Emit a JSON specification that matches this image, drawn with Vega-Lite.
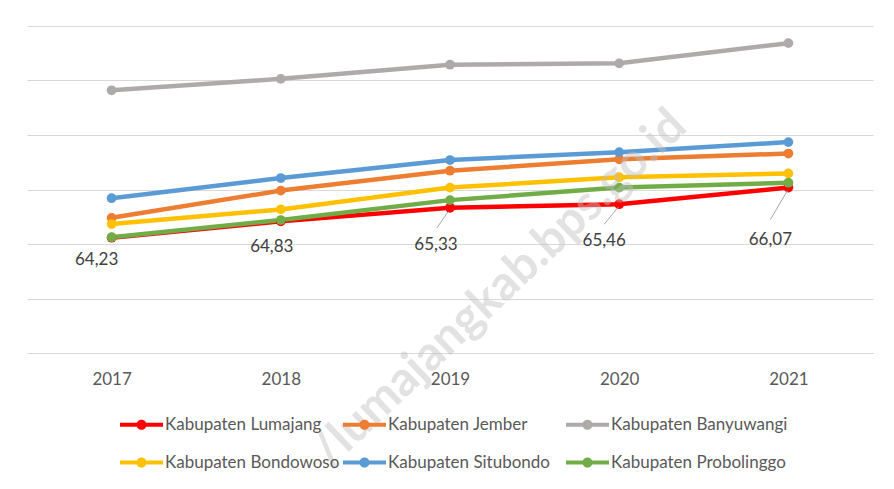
{
  "$schema": "https://vega.github.io/schema/vega-lite/v6.json",
  "width": 846,
  "height": 327,
  "autosize": "none",
  "padding": {"left": 27, "top": 26, "right": 21, "bottom": 136},
  "background": "white",
  "config": {
    "font": "Lato",
    "locale": {"number": {"decimal": ",", "thousands": ".", "grouping": [3], "currency": ["", ""]}},
    "view": {"stroke": null}
  },
  "data": {
    "values": [
      {"series": "Kabupaten Lumajang", "year": "2017", "value": 64.23},
      {"series": "Kabupaten Lumajang", "year": "2018", "value": 64.83},
      {"series": "Kabupaten Lumajang", "year": "2019", "value": 65.33},
      {"series": "Kabupaten Lumajang", "year": "2020", "value": 65.46},
      {"series": "Kabupaten Lumajang", "year": "2021", "value": 66.07},
      {"series": "Kabupaten Jember", "year": "2017", "value": 64.96},
      {"series": "Kabupaten Jember", "year": "2018", "value": 65.96},
      {"series": "Kabupaten Jember", "year": "2019", "value": 66.69},
      {"series": "Kabupaten Jember", "year": "2020", "value": 67.11},
      {"series": "Kabupaten Jember", "year": "2021", "value": 67.32},
      {"series": "Kabupaten Banyuwangi", "year": "2017", "value": 69.64},
      {"series": "Kabupaten Banyuwangi", "year": "2018", "value": 70.06},
      {"series": "Kabupaten Banyuwangi", "year": "2019", "value": 70.58},
      {"series": "Kabupaten Banyuwangi", "year": "2020", "value": 70.63},
      {"series": "Kabupaten Banyuwangi", "year": "2021", "value": 71.37},
      {"series": "Kabupaten Bondowoso", "year": "2017", "value": 64.73},
      {"series": "Kabupaten Bondowoso", "year": "2018", "value": 65.27},
      {"series": "Kabupaten Bondowoso", "year": "2019", "value": 66.07},
      {"series": "Kabupaten Bondowoso", "year": "2020", "value": 66.45},
      {"series": "Kabupaten Bondowoso", "year": "2021", "value": 66.59},
      {"series": "Kabupaten Situbondo", "year": "2017", "value": 65.68},
      {"series": "Kabupaten Situbondo", "year": "2018", "value": 66.42},
      {"series": "Kabupaten Situbondo", "year": "2019", "value": 67.08},
      {"series": "Kabupaten Situbondo", "year": "2020", "value": 67.37},
      {"series": "Kabupaten Situbondo", "year": "2021", "value": 67.74},
      {"series": "Kabupaten Probolinggo", "year": "2017", "value": 64.25},
      {"series": "Kabupaten Probolinggo", "year": "2018", "value": 64.88},
      {"series": "Kabupaten Probolinggo", "year": "2019", "value": 65.61},
      {"series": "Kabupaten Probolinggo", "year": "2020", "value": 66.07},
      {"series": "Kabupaten Probolinggo", "year": "2021", "value": 66.25}
    ]
  },
  "encoding": {
    "x": {
      "field": "year", "type": "ordinal",
      "scale": {"type": "point", "padding": 0.5},
      "axis": {"title": null, "labelAngle": 0, "ticks": false, "tickSize": 0, "domainColor": "#D9D9D9", "domainWidth": 1, "labelFontSize": 17, "labelColor": "#595959", "labelPadding": 18, "grid": false}
    },
    "y": {
      "field": "value", "type": "quantitative",
      "scale": {"domain": [60, 72], "nice": false, "zero": false},
      "axis": {"title": null, "labels": false, "ticks": false, "domain": false, "grid": true, "gridColor": "#D9D9D9", "gridWidth": 1, "values": [60, 62, 64, 66, 68, 70, 72]}
    }
  },
  "layer": [
    {
      "mark": {"type": "line", "strokeWidth": 4.5},
      "encoding": {
        "color": {
          "field": "series", "type": "nominal",
          "scale": {
            "domain": ["Kabupaten Lumajang", "Kabupaten Jember", "Kabupaten Banyuwangi", "Kabupaten Bondowoso", "Kabupaten Situbondo", "Kabupaten Probolinggo"],
            "range": ["#FF0000", "#ED7D31", "#AEAAAA", "#FFC000", "#5B9BD5", "#70AD47"]
          },
          "legend": {
            "title": null,
            "orient": "none",
            "legendX": 99,
            "legendY": 383,
            "direction": "horizontal",
            "columns": 3,
            "gridAlign": "all",
            "columnPadding": 1,
            "rowPadding": 14,
            "symbolType": "M-1.4,-0.13L1.4,-0.13L1.4,0.13L-1.4,0.13Z M0.33,0A0.33,0.33 0 1,1 -0.33,0A0.33,0.33 0 1,1 0.33,0Z",
            "symbolSize": 943,
            "symbolStrokeWidth": 0,
            "labelFontSize": 17,
            "labelColor": "#595959",
            "labelOffset": 8,
            "labelLimit": 300
          }
        }
      }
    },
    {
      "mark": {"type": "point", "filled": true, "size": 95, "opacity": 1},
      "encoding": {"color": {"field": "series", "type": "nominal"}}
    },
    {
      "transform": [{"filter": {"and": [{"field": "series", "equal": "Kabupaten Lumajang"}, {"field": "year", "equal": "2017"}]}}],
      "mark": {"type": "text", "dx": -15, "dy": 22, "fontSize": 17, "color": "#404040", "align": "center", "baseline": "middle"},
      "encoding": {"text": {"field": "value", "type": "quantitative", "format": ".2f"}}
    },
    {
      "transform": [{"filter": {"and": [{"field": "series", "equal": "Kabupaten Lumajang"}, {"field": "year", "equal": "2018"}]}}],
      "mark": {"type": "text", "dx": -9, "dy": 26, "fontSize": 17, "color": "#404040", "align": "center", "baseline": "middle"},
      "encoding": {"text": {"field": "value", "type": "quantitative", "format": ".2f"}}
    },
    {
      "transform": [{"filter": {"and": [{"field": "series", "equal": "Kabupaten Lumajang"}, {"field": "year", "equal": "2019"}]}}],
      "mark": {"type": "text", "dx": -14, "dy": 37, "fontSize": 17, "color": "#404040", "align": "center", "baseline": "middle"},
      "encoding": {"text": {"field": "value", "type": "quantitative", "format": ".2f"}}
    },
    {
      "transform": [{"filter": {"and": [{"field": "series", "equal": "Kabupaten Lumajang"}, {"field": "year", "equal": "2020"}]}}],
      "mark": {"type": "text", "dx": -15, "dy": 37, "fontSize": 17, "color": "#404040", "align": "center", "baseline": "middle"},
      "encoding": {"text": {"field": "value", "type": "quantitative", "format": ".2f"}}
    },
    {
      "transform": [{"filter": {"and": [{"field": "series", "equal": "Kabupaten Lumajang"}, {"field": "year", "equal": "2021"}]}}],
      "mark": {"type": "text", "dx": -18, "dy": 52, "fontSize": 17, "color": "#404040", "align": "center", "baseline": "middle"},
      "encoding": {"text": {"field": "value", "type": "quantitative", "format": ".2f"}}
    },
    {
      "transform": [{"filter": {"and": [{"field": "series", "equal": "Kabupaten Lumajang"}, {"field": "year", "equal": "2019"}]}}],
      "mark": {"type": "rule", "color": "#A6A6A6", "strokeWidth": 1, "xOffset": -2, "yOffset": 4, "x2Offset": -13, "y2Offset": 20},
      "encoding": {"x2": {"field": "year"}, "y2": {"field": "value"}}
    },
    {
      "transform": [{"filter": {"and": [{"field": "series", "equal": "Kabupaten Lumajang"}, {"field": "year", "equal": "2020"}]}}],
      "mark": {"type": "rule", "color": "#A6A6A6", "strokeWidth": 1, "xOffset": -1, "yOffset": 3, "x2Offset": -15, "y2Offset": 20},
      "encoding": {"x2": {"field": "year"}, "y2": {"field": "value"}}
    },
    {
      "transform": [{"filter": {"and": [{"field": "series", "equal": "Kabupaten Lumajang"}, {"field": "year", "equal": "2021"}]}}],
      "mark": {"type": "rule", "color": "#A6A6A6", "strokeWidth": 1, "xOffset": -1, "yOffset": 3, "x2Offset": -18, "y2Offset": 32},
      "encoding": {"x2": {"field": "year"}, "y2": {"field": "value"}}
    },
    {
      "data": {"values": [{"label": "/lumajangkab.bps.go.id", "year": "2019", "value": 62.35}]},
      "mark": {"type": "text", "angle": -43.5, "fontSize": 48, "fontWeight": "bold", "color": "#BFBFBF", "opacity": 0.45, "xOffset": 50, "align": "center", "baseline": "middle"},
      "encoding": {"text": {"field": "label", "type": "nominal"}}
    }
  ]
}
